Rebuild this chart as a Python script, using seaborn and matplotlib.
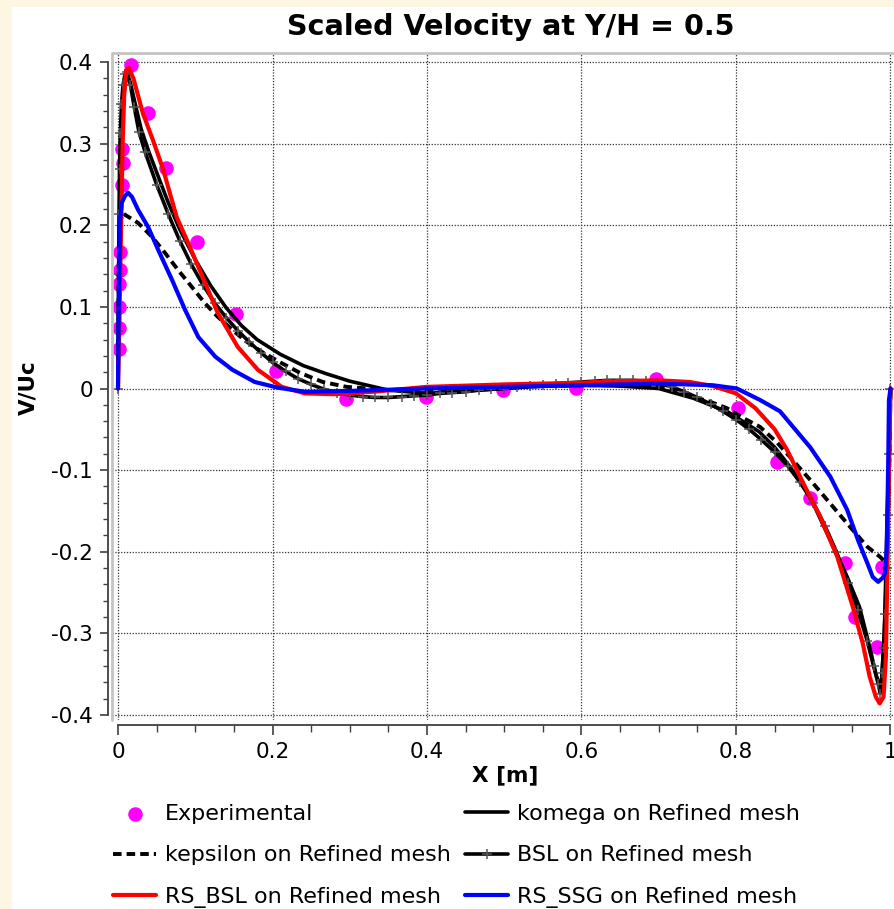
import matplotlib
matplotlib.use("Agg")
import matplotlib.pyplot as plt
import seaborn as sns
from matplotlib.patches import Rectangle
from matplotlib.lines import Line2D
from matplotlib.ticker import MultipleLocator

# ---------------- data ----------------
exp_x = [0.001, 0.0013, 0.0013, 0.0013, 0.0026, 0.0026, 0.0052, 0.0065, 0.0052, 0.0168,
         0.0388, 0.0621, 0.102, 0.153, 0.2045, 0.295, 0.399, 0.498, 0.593, 0.696,
         0.803, 0.853, 0.896, 0.941, 0.954, 0.983, 0.989]
exp_y = [0.048, 0.074, 0.100, 0.128, 0.145, 0.167, 0.249, 0.276, 0.294, 0.397,
         0.338, 0.270, 0.180, 0.091, 0.021, -0.013, -0.010, -0.002, 0.001, 0.012,
         -0.024, -0.090, -0.134, -0.214, -0.280, -0.317, -0.219]

ke_x = [0.0, 0.001, 0.003, 0.0065, 0.009, 0.026, 0.044, 0.061, 0.078, 0.096, 0.113, 0.129,
        0.148, 0.164, 0.186, 0.212, 0.236, 0.265, 0.296, 0.35, 0.4, 0.45, 0.5, 0.55, 0.6,
        0.65, 0.698, 0.724, 0.744, 0.766, 0.788, 0.809, 0.831, 0.853, 0.870, 0.896, 0.922,
        0.948, 0.970, 0.986, 0.995, 0.998, 1.0]
ke_y = [0.0, 0.15, 0.205, 0.215, 0.213, 0.203, 0.186, 0.166, 0.145, 0.124, 0.104, 0.088,
        0.072, 0.059, 0.045, 0.031, 0.019, 0.008, 0.002, -0.002, -0.003, -0.001, 0.001, 0.003,
        0.004, 0.004, 0.002, -0.002, -0.010, -0.016, -0.024, -0.036, -0.047, -0.066, -0.084,
        -0.112, -0.141, -0.170, -0.194, -0.206, -0.214, -0.12, 0.0]

ko_x = [0.0, 0.001, 0.003, 0.006, 0.009, 0.012, 0.016, 0.022, 0.03, 0.04, 0.05, 0.065, 0.08,
        0.1, 0.12, 0.14, 0.16, 0.18, 0.21, 0.24, 0.27, 0.3, 0.35, 0.4, 0.45, 0.5, 0.55, 0.6,
        0.65, 0.7, 0.745, 0.79, 0.83, 0.85, 0.87, 0.896, 0.922, 0.944, 0.96, 0.973, 0.982,
        0.988, 0.992, 0.996, 1.0]
ko_y = [0.0, 0.12, 0.26, 0.34, 0.372, 0.384, 0.375, 0.35, 0.318, 0.29, 0.265, 0.228, 0.195,
        0.158, 0.126, 0.099, 0.077, 0.06, 0.042, 0.028, 0.018, 0.009, -0.002, -0.006, -0.003,
        0.0, 0.003, 0.004, 0.003, 0.0, -0.012, -0.029, -0.053, -0.072, -0.096, -0.133, -0.186,
        -0.231, -0.268, -0.317, -0.353, -0.368, -0.3, -0.15, 0.0]

bsl_x = [0.0, 0.0004, 0.0008, 0.0013, 0.002, 0.003, 0.0045, 0.0065, 0.009, 0.012, 0.016, 0.021,
         0.027, 0.035, 0.05, 0.065, 0.08, 0.095, 0.11, 0.125, 0.14, 0.155, 0.17, 0.185, 0.2,
         0.217, 0.233, 0.25, 0.267, 0.283, 0.3, 0.317, 0.333, 0.35, 0.367, 0.383, 0.4, 0.417,
         0.433, 0.45, 0.467, 0.483, 0.5, 0.517, 0.533, 0.55, 0.567, 0.583, 0.6, 0.617, 0.633,
         0.65, 0.667, 0.683, 0.7, 0.717, 0.733, 0.75, 0.767, 0.783, 0.8, 0.817, 0.833, 0.85,
         0.867, 0.883, 0.9, 0.915, 0.93, 0.945, 0.958, 0.97, 0.978, 0.984, 0.987, 0.989, 0.991,
         0.993, 0.995, 0.997, 0.9985, 1.0]
bsl_y = [0.0, 0.07, 0.14, 0.214, 0.269, 0.313, 0.349, 0.372, 0.385, 0.388, 0.372, 0.345,
         0.315, 0.29, 0.25, 0.214, 0.181, 0.152, 0.127, 0.105, 0.087, 0.071, 0.057, 0.044, 0.032,
         0.021, 0.012, 0.005, -0.001, -0.005, -0.008, -0.010, -0.011, -0.011, -0.010, -0.009,
         -0.008, -0.006, -0.005, -0.004, -0.002, -0.001, 0.0, 0.002, 0.003, 0.004, 0.006, 0.007,
         0.008, 0.009, 0.010, 0.010, 0.010, 0.009, 0.006, 0.002, -0.004, -0.011, -0.019, -0.028,
         -0.038, -0.05, -0.063, -0.078, -0.095, -0.115, -0.14, -0.168, -0.2, -0.238, -0.272,
         -0.31, -0.34, -0.362, -0.374, -0.349, -0.318, -0.276, -0.22, -0.155, -0.08, 0.0]

rb_x = [0.0, 0.002, 0.004, 0.006, 0.008, 0.0105, 0.014, 0.02, 0.032, 0.045, 0.058, 0.076,
        0.091, 0.113, 0.129, 0.155, 0.181, 0.212, 0.242, 0.28, 0.33, 0.4, 0.5, 0.6, 0.65, 0.7,
        0.74, 0.77, 0.8, 0.825, 0.85, 0.866, 0.887, 0.909, 0.931, 0.951, 0.964, 0.973, 0.981,
        0.986, 0.991, 0.994, 0.996, 0.998, 1.0]
rb_y = [0.0, 0.09, 0.2, 0.3, 0.36, 0.39, 0.393, 0.38, 0.338, 0.305, 0.27, 0.21, 0.178, 0.129,
        0.093, 0.051, 0.023, 0.002, -0.006, -0.007, -0.004, 0.002, 0.005, 0.007, 0.009, 0.010,
        0.008, 0.003, -0.006, -0.024, -0.05, -0.075, -0.116, -0.157, -0.206, -0.267, -0.312,
        -0.353, -0.378, -0.386, -0.378, -0.33, -0.22, -0.1, 0.0]

ss_x = [0.0, 0.001, 0.0026, 0.005, 0.009, 0.013, 0.018, 0.026, 0.039, 0.052, 0.070, 0.087,
        0.104, 0.126, 0.148, 0.177, 0.207, 0.242, 0.3, 0.4, 0.5, 0.6, 0.7, 0.77, 0.801, 0.831,
        0.857, 0.896, 0.922, 0.944, 0.958, 0.970, 0.977, 0.984, 0.990, 0.993, 0.995, 0.997,
        0.998, 1.0]
ss_y = [0.0, 0.1, 0.206, 0.228, 0.236, 0.240, 0.235, 0.219, 0.198, 0.170, 0.133, 0.096,
        0.063, 0.039, 0.023, 0.008, 0.001, -0.004, -0.003, 0.0, 0.002, 0.004, 0.006, 0.004, 0.0,
        -0.014, -0.028, -0.072, -0.108, -0.149, -0.186, -0.214, -0.231, -0.237, -0.232, -0.226,
        -0.198, -0.096, -0.014, 0.0]

x_ticks = [0.0, 0.2, 0.4, 0.6, 0.8, 1.0]
x_tick_labels = ["0", "0.2", "0.4", "0.6", "0.8", "1"]
y_ticks = [-0.4, -0.3, -0.2, -0.1, 0.0, 0.1, 0.2, 0.3, 0.4]
y_tick_labels = ["-0.4", "-0.3", "-0.2", "-0.1", "0", "0.1", "0.2", "0.3", "0.4"]

# ---------------- style ----------------
sns.set_theme(style="white")
plt.rcParams["font.family"] = ["DejaVu Sans"]
plt.rcParams["axes.unicode_minus"] = False
plt.rcParams["text.color"] = "black"
plt.rcParams["axes.labelcolor"] = "black"
plt.rcParams["xtick.color"] = "#404040"
plt.rcParams["ytick.color"] = "#404040"

W, H = 895, 909
fig = plt.figure(figsize=(W / 100, H / 100), dpi=100, facecolor="#FDF6E3")
fig.add_artist(Rectangle((12 / W, 0), 1, 1 - 7 / H, transform=fig.transFigure,
                         facecolor="white", edgecolor="none", zorder=-5))

ax = fig.add_axes([112 / W, 1 - 720 / H, (894 - 112) / W, (720 - 53) / H])
ax.set_facecolor("none")

sns.scatterplot(x=exp_x, y=exp_y, ax=ax, color="#FF00FF", s=110, linewidth=0,
                label="Experimental", zorder=2)
sns.lineplot(x=ke_x, y=ke_y, ax=ax, color="black", linewidth=2.8,
             linestyle=(0, (2.2, 1.3)), estimator=None, sort=False,
             label="kepsilon on Refined mesh", zorder=3)
sns.lineplot(x=ko_x, y=ko_y, ax=ax, color="black", linewidth=2.6, estimator=None,
             sort=False, label="komega on Refined mesh", zorder=4)
sns.lineplot(x=bsl_x, y=bsl_y, ax=ax, color="black", linewidth=2.6, marker="+",
             markersize=7, markeredgecolor="#555555", markeredgewidth=1.1,
             estimator=None, sort=False, label="BSL on Refined mesh", zorder=5)
sns.lineplot(x=rb_x, y=rb_y, ax=ax, color="#FF0000", linewidth=3.0, estimator=None,
             sort=False, label="RS_BSL on Refined mesh", zorder=6)
sns.lineplot(x=ss_x, y=ss_y, ax=ax, color="#0000FF", linewidth=3.0, estimator=None,
             sort=False, label="RS_SSG on Refined mesh", zorder=7)

ax.set_xlim((112 - 118) / 772.5, (894 - 118) / 772.5)
ax.set_ylim((388.5 - 720) / 815.8, (388.5 - 53) / 815.8)

ax.set_xticks(x_ticks)
ax.set_xticklabels(x_tick_labels)
ax.set_yticks(y_ticks)
ax.set_yticklabels(y_tick_labels)
ax.xaxis.set_minor_locator(MultipleLocator(0.05))
ax.yaxis.set_minor_locator(MultipleLocator(0.02))

ax.grid(True, which="major", color="#333333", linestyle=(0, (1, 1.3)), linewidth=0.9)
ax.set_axisbelow(True)

for s in ["top", "right"]:
    ax.spines[s].set_visible(False)
ax.spines["left"].set_position(("outward", 2.9))
ax.spines["left"].set_bounds(-0.4, 0.4)
ax.spines["bottom"].set_position(("outward", 3.6))
ax.spines["bottom"].set_bounds(0, 1)
for s in ["left", "bottom"]:
    ax.spines[s].set_color("#404040")
    ax.spines[s].set_linewidth(1.3)

ax.tick_params(axis="y", which="both", left=True, direction="out", color="#404040",
               labelsize=15.5, labelcolor="black")
ax.tick_params(axis="y", which="major", length=5.8, width=1.2, pad=5.0)
ax.tick_params(axis="y", which="minor", length=3.6, width=1.0)
ax.tick_params(axis="x", which="both", bottom=True, direction="out", color="#404040",
               labelsize=15.5, labelcolor="black")
ax.tick_params(axis="x", which="major", length=7.2, width=1.2, pad=5.0)
ax.tick_params(axis="x", which="minor", length=5.0, width=1.0)

# light gray plot frame (top and left)
fig.add_artist(Line2D([112 / W, 112 / W, 1.0], [1 - 720 / H, 1 - 53 / H, 1 - 53 / H],
                      transform=fig.transFigure, color="#c4c4c4", linewidth=2.0))

fig.text(511 / W, 1 - 27 / H, "Scaled Velocity at Y/H = 0.5", ha="center", va="center",
         fontsize=20.6, fontweight="bold", color="black")
fig.text(505 / W, 1 - 775 / H, "X [m]", ha="center", va="center", fontsize=15.5,
         fontweight="bold", color="black")
fig.text(28 / W, 1 - 388 / H, "V/Uc", rotation=90, ha="center", va="center",
         fontsize=15.5, fontweight="bold", color="black")

handles, labels = ax.get_legend_handles_labels()
if ax.get_legend() is not None:
    ax.get_legend().remove()
hmap = dict(zip(labels, handles))

col1 = ["Experimental", "kepsilon on Refined mesh", "RS_BSL on Refined mesh"]
col2 = ["komega on Refined mesh", "BSL on Refined mesh", "RS_SSG on Refined mesh"]
leg_kw = dict(loc="upper left", frameon=False, fontsize=16.0, handlelength=1.95,
              handletextpad=0.4, labelspacing=0.96, borderpad=0, borderaxespad=0,
              labelcolor="black")
fig.legend([hmap[l] for l in col1], col1, bbox_to_anchor=(113 / W, 1 - 804 / H), **leg_kw)
fig.legend([hmap[l] for l in col2], col2, bbox_to_anchor=(465 / W, 1 - 804 / H), **leg_kw)

fig.savefig("out.png", dpi=100, facecolor=fig.get_facecolor())
